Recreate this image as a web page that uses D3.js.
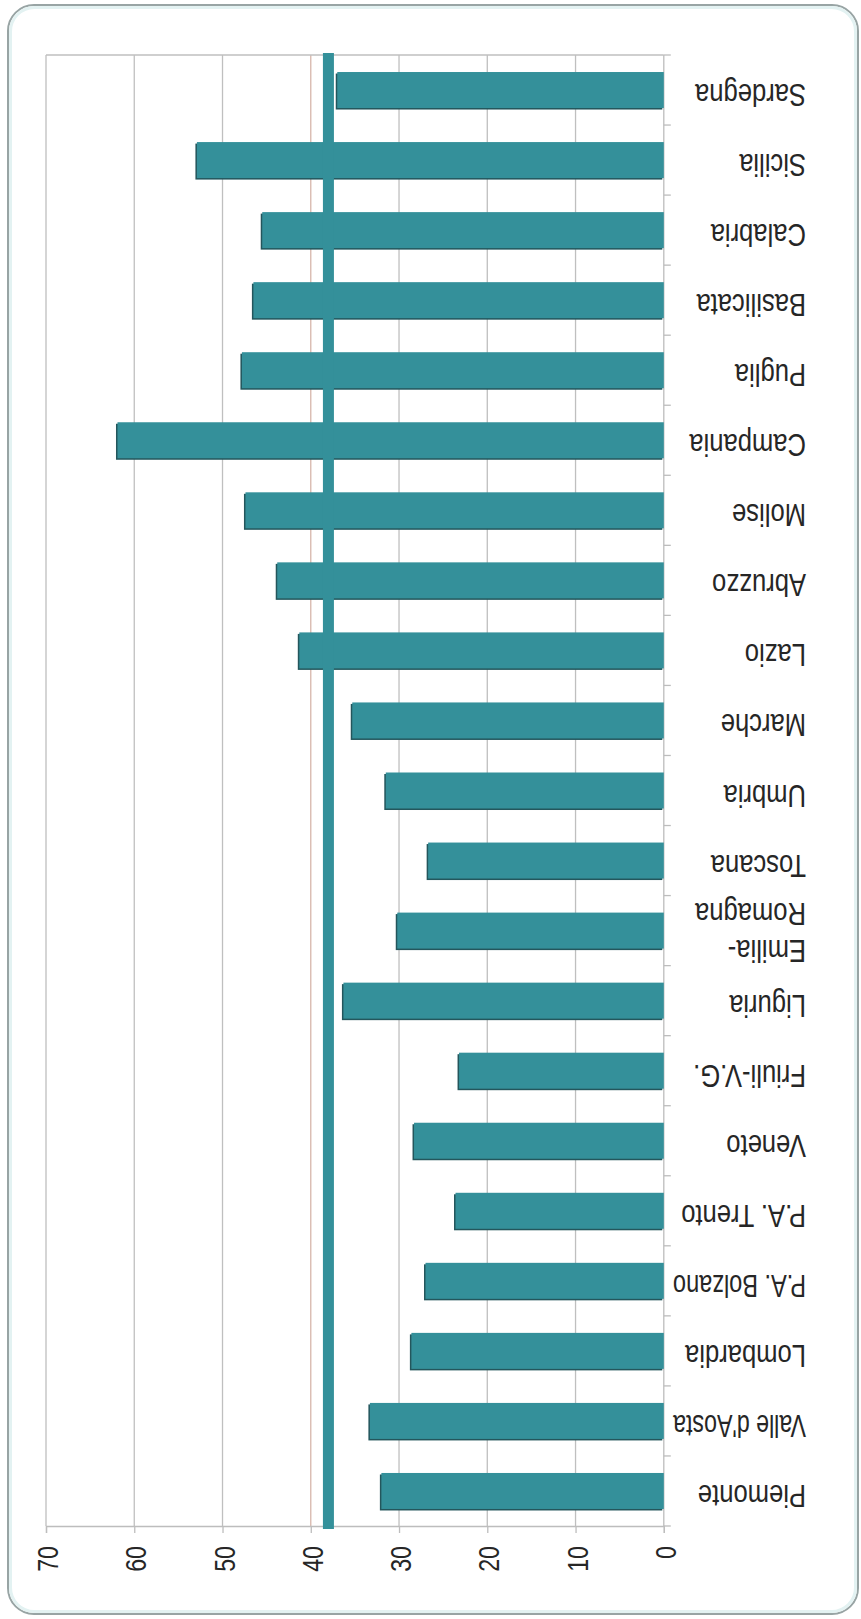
<!DOCTYPE html>
<html>
<head>
<meta charset="utf-8">
<script src="https://cdn.jsdelivr.net/npm/d3@7"></script>
<style>
  html, body { margin: 0; padding: 0; background: #ffffff; }
  svg { display: block; }
  text { font-family: "Liberation Sans", Arial, sans-serif; fill: #262626; }
</style>
</head>
<body>
<svg id="chart" width="861" height="1619"></svg>
<script>
// Regions, in their usual north-to-south order
const regioni = [
  "Piemonte", "Valle d'Aosta", "Lombardia", "P.A. Bolzano", "P.A. Trento",
  "Veneto", "Friuli-V.G.", "Liguria", "Emilia-Romagna", "Toscana",
  "Umbria", "Marche", "Lazio", "Abruzzo", "Molise",
  "Campania", "Puglia", "Basilicata", "Calabria", "Sicilia", "Sardegna"
];
// One value per region (same order)
const valori = [
  32.0, 33.3, 28.6, 27.0, 23.6,
  28.3, 23.2, 36.3, 30.2, 26.7,
  31.5, 35.3, 41.3, 43.8, 47.4,
  61.9, 47.8, 46.5, 45.5, 52.9, 37.0
];
// National average, drawn as a reference line
const media = 38.0;
// Value axis ticks
const tickValori = [0, 10, 20, 30, 40, 50, 60, 70];

const data = regioni.map((r, i) => ({ regione: r, valore: valori[i] }));

const svg = d3.select("#chart");
const teal = "#34909a";

// Card frame
svg.append("rect")
  .attr("x", 8).attr("y", 5).attr("width", 850).attr("height", 1609)
  .attr("rx", 26).attr("ry", 26)
  .attr("fill", "#ffffff").attr("stroke", "#98a4a4").attr("stroke-width", 2);
svg.append("rect")
  .attr("x", 10.5).attr("y", 7.5).attr("width", 845).attr("height", 1604)
  .attr("rx", 24).attr("ry", 24)
  .attr("fill", "none").attr("stroke", "#e3f2f2").attr("stroke-width", 3);

const plotLeft = 46, plotRight = 663.8, plotTop = 55, plotBottom = 1526;

// The whole chart is laid out upside down: zero on the right, values grow leftwards
const x = d3.scaleLinear().domain([0, 70]).range([plotRight, plotLeft]);
const y = d3.scaleBand()
  .domain(regioni.slice().reverse())
  .range([plotTop, plotBottom])
  .paddingInner(0.486)
  .paddingOuter(0.243);

// Gridlines
svg.append("g").selectAll("line")
  .data(tickValori.filter(v => v > 0))
  .join("line")
  .attr("x1", d => x(d)).attr("x2", d => x(d))
  .attr("y1", plotTop).attr("y2", plotBottom)
  .attr("stroke", d => d === 40 ? "#d6b6aa" : "#bfbfbf")
  .attr("stroke-width", 1.3);

// Top border of plot area
svg.append("line")
  .attr("x1", plotLeft).attr("x2", plotRight).attr("y1", plotTop).attr("y2", plotTop)
  .attr("stroke", "#bfbfbf").attr("stroke-width", 1.3);

// Value axis (bottom of the page)
const xAxis = d3.axisBottom(x).tickValues(tickValori).tickSize(7).tickFormat("");
const gx = svg.append("g").attr("transform", `translate(0,${plotBottom})`).call(xAxis);
gx.select(".domain").attr("stroke", "#bdbdbd").attr("stroke-width", 1.3);
gx.selectAll(".tick line").attr("stroke", "#bdbdbd").attr("stroke-width", 1.3);

// Tick labels, rotated to read bottom-to-top
svg.append("g").selectAll("text")
  .data(tickValori)
  .join("text")
  .attr("transform", d => `translate(${x(d) + 12},1546) rotate(-90) scale(0.8,1)`)
  .attr("text-anchor", "end")
  .attr("font-size", 29)
  .text(d => d);

// Category axis on the right
const step = y.step();
const bounds = d3.range(regioni.length + 1).map(i => plotTop + i * step);
svg.append("line")
  .attr("x1", plotRight).attr("x2", plotRight).attr("y1", plotTop).attr("y2", plotBottom)
  .attr("stroke", "#bdbdbd").attr("stroke-width", 1.3);
svg.append("g").selectAll("line")
  .data(bounds)
  .join("line")
  .attr("x1", plotRight).attr("x2", plotRight + 7)
  .attr("y1", d => d).attr("y2", d => d)
  .attr("stroke", "#bdbdbd").attr("stroke-width", 1.3);

// Bars: dark edge underneath, then the fill
const bars = svg.append("g");
bars.selectAll("rect.edge")
  .data(data)
  .join("rect")
  .attr("class", "edge")
  .attr("x", d => x(d.valore) - 1.5)
  .attr("y", d => y(d.regione) + 1.5)
  .attr("width", d => x(0) - x(d.valore))
  .attr("height", y.bandwidth())
  .attr("fill", "#24565c");
bars.selectAll("rect.bar")
  .data(data)
  .join("rect")
  .attr("class", "bar")
  .attr("x", d => x(d.valore))
  .attr("y", d => y(d.regione))
  .attr("width", d => x(0) - x(d.valore))
  .attr("height", y.bandwidth())
  .attr("fill", teal);

// Average line
svg.append("line")
  .attr("x1", x(media)).attr("x2", x(media))
  .attr("y1", plotTop - 2).attr("y2", plotBottom + 3)
  .attr("stroke", teal).attr("stroke-width", 11);

// Category labels, upside down; long names are squeezed to fit beside the axis
const labelX = 806, labelRoom = 133;
const labels = svg.append("g").selectAll("text")
  .data(data)
  .join("text")
  .attr("font-size", 32);
labels.each(function(d) {
  const t = d3.select(this);
  if (d.regione === "Emilia-Romagna") {
    t.append("tspan").attr("x", 0).attr("dy", 0).text("Emilia-");
    t.append("tspan").attr("x", 0).attr("dy", 37).text("Romagna");
  } else {
    t.text(d.regione);
  }
});
labels.attr("transform", function(d) {
  const c = y(d.regione) + y.bandwidth() / 2;
  const by = d.regione === "Emilia-Romagna" ? c + 9.5 : c - 6;
  const len = this.getBBox().width;
  const sx = Math.min(0.8, labelRoom / len);
  return `translate(${labelX},${by}) rotate(180) scale(${sx},1)`;
});
</script>
</body>
</html>
